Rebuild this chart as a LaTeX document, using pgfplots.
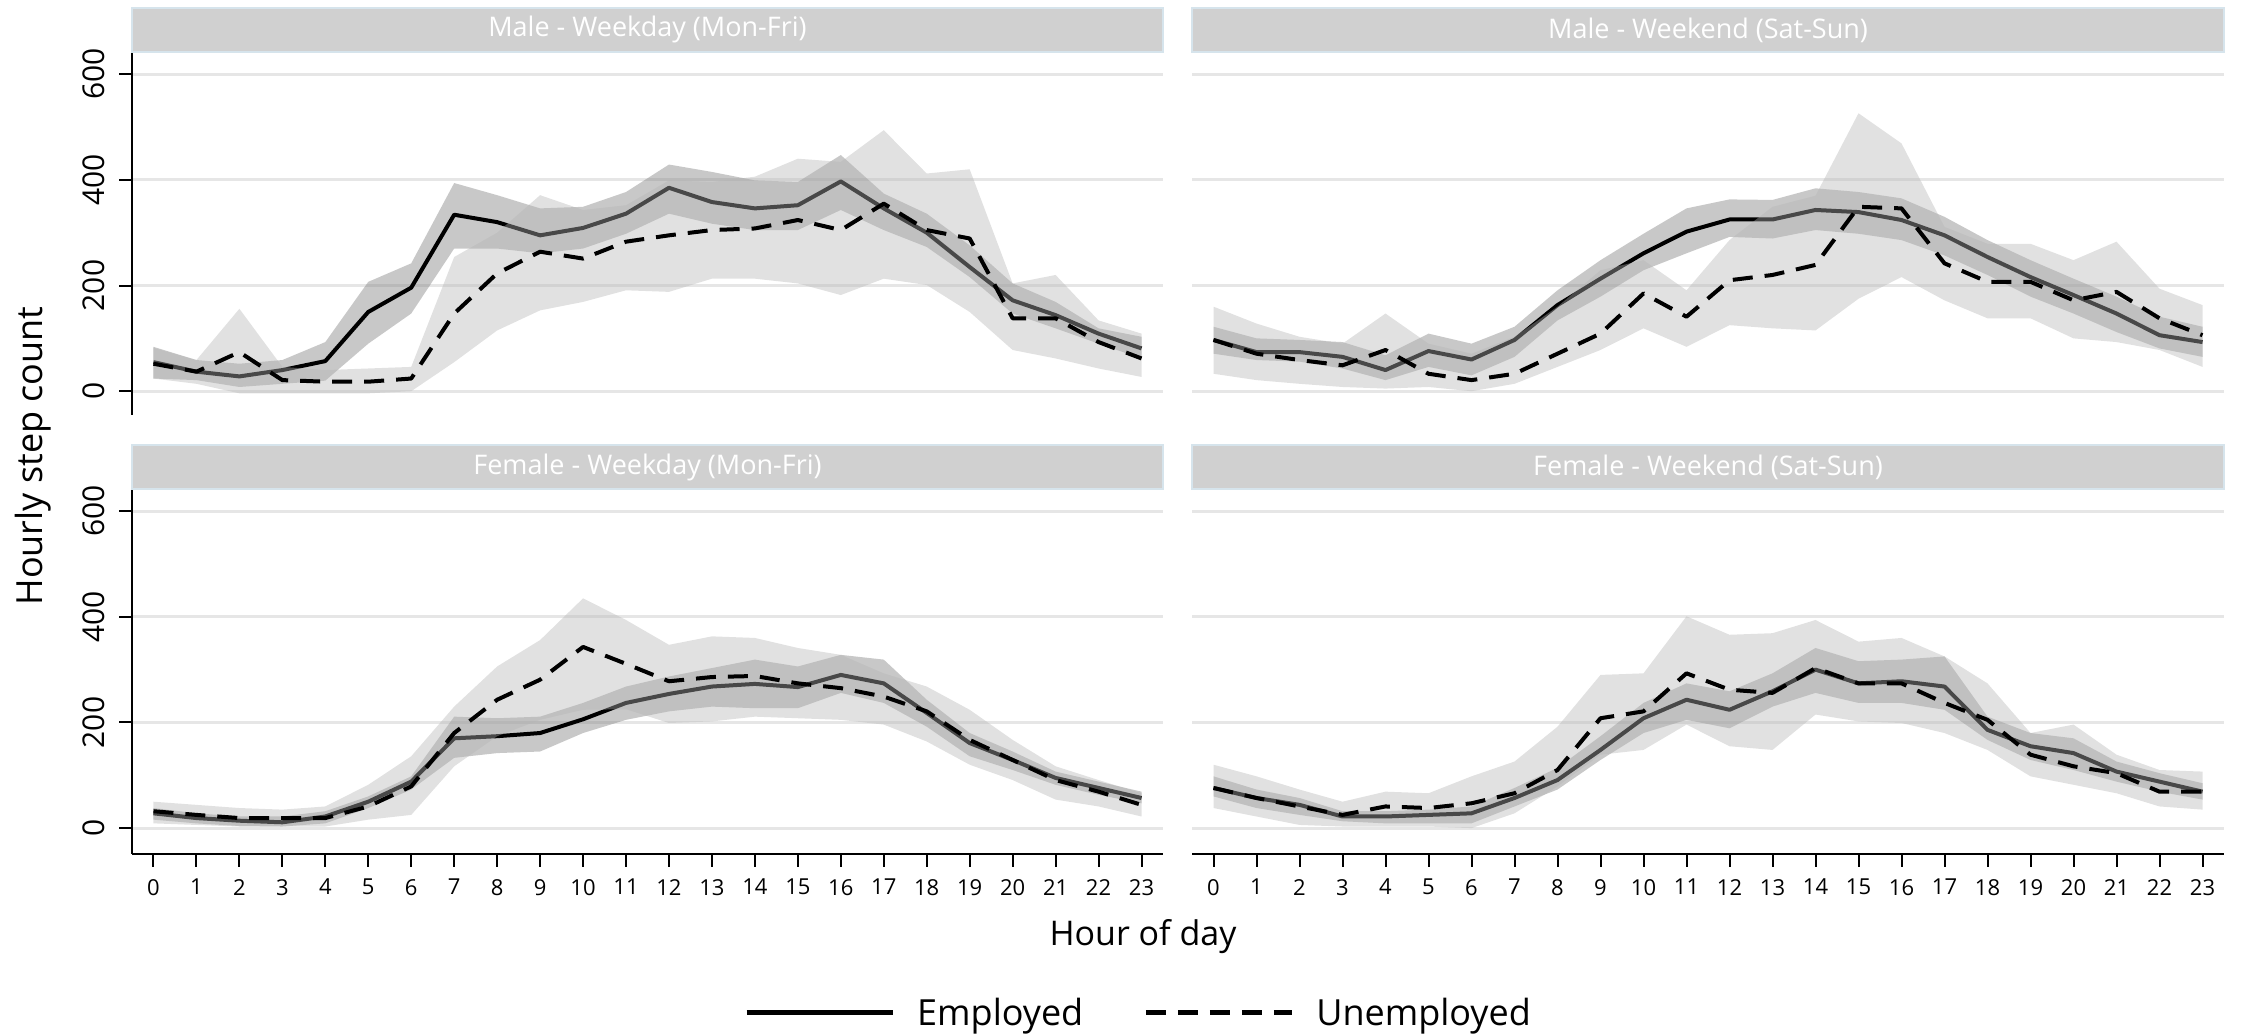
\documentclass[border=0pt]{standalone}
\usepackage{pgfplots}
\pgfplotsset{compat=1.18}
\usepackage{pgfplotstable}
\usepackage{fontspec}
\setmainfont{Open Sans}
\definecolor{gridc}{HTML}{E6E6E6}
\definecolor{stripc}{HTML}{D0D0D0}
\definecolor{stripb}{HTML}{D6E4EC}
\definecolor{bandE}{HTML}{767676}
\definecolor{bandU}{HTML}{B4B4B4}

% mean hourly steps: e = employed, u = unemployed
\pgfplotstableread{
h e u
0 55 52
1 37 37
2 28 74
3 40 21
4 57 18
5 150 18
6 196 24
7 334 147
8 320 223
9 295 264
10 309 251
11 336 283
12 385 295
13 358 305
14 346 308
15 352 324
16 397 305
17 346 355
18 300 305
19 235 289
20 172 138
21 144 138
22 109 93
23 81 62
}\tabMWD

\pgfplotstableread{
h e u
0 97 97
1 74 71
2 74 59
3 65 49
4 40 78
5 76 33
6 60 21
7 97 33
8 163 71
9 213 109
10 261 185
11 302 141
12 325 210
13 325 220
14 343 239
15 339 349
16 324 346
17 295 242
18 254 207
19 216 207
20 182 172
21 147 188
22 106 138
23 93 106
}\tabMWE

\pgfplotstableread{
h e u
0 28 32
1 19 25
2 14 19
3 11 19
4 22 19
5 50 41
6 88 79
7 170 180
8 174 243
9 180 281
10 206 343
11 237 311
12 254 278
13 268 286
14 273 288
15 267 274
16 290 265
17 274 249
18 218 221
19 161 167
20 129 129
21 95 91
22 76 69
23 57 44
}\tabFWD

\pgfplotstableread{
h e u
0 76 76
1 57 57
2 44 41
3 22 25
4 22 41
5 25 38
6 28 47
7 57 66
8 91 110
9 148 208
10 208 221
11 243 293
12 224 262
13 259 256
14 300 303
15 274 274
16 278 274
17 268 237
18 186 205
19 155 139
20 142 117
21 107 104
22 88 69
23 69 69
}\tabFWE

% #1 table, #2 employed CI polygon (upper then lower), #3 unemployed CI polygon
\newcommand{\drawpanel}[3]{%
  \addplot[fill=bandE, fill opacity=0.4, draw=none, forget plot] coordinates {#2};
  \addplot[black, line width=4pt, line join=round, forget plot] table[x=h, y=e] {#1};
  \addplot[fill=bandU, fill opacity=0.4, draw=none, forget plot] coordinates {#3};
  \addplot[black, line width=4pt, line join=round, dash pattern=on 20pt off 12pt, forget plot] table[x=h, y=u] {#1};
}

\pgfplotsset{
  panel/.style={
    scale only axis, width=1031pt,
    xmin=-0.5, xmax=23.5,
    xtick={0,...,23}, ytick={0,200,400,600},
    ymajorgrids, grid style={gridc, line width=3pt},
    axis x line*=bottom, axis y line*=left,
    axis line style={line width=2pt, black},
    major tick length=13pt, tick align=outside,
    tick style={line width=2pt, black},
    /pgf/number format/assume math mode=true,
    xticklabel style={font=\fontsize{22}{24}\selectfont, inner ysep=12pt},
    yticklabel style={font=\fontsize{30}{32}\selectfont, rotate=90, anchor=south, inner xsep=0pt, inner ysep=14pt},
  },
  toppanel/.style={height=363pt, ymin=-45, ymax=642, xtick=\empty, x axis line style={draw=none}},
  botpanel/.style={height=365pt, ymin=-49, ymax=642},
  rightpanel/.style={yticklabels={}, y axis line style={draw=none}, ytick style={draw=none}},
}

\begin{document}
\begin{tikzpicture}[x=1pt, y=1pt]
\path[use as bounding box] (0,0) rectangle (2247,1035);

\begin{axis}[panel, toppanel, at={(132pt,620pt)}, anchor=south west]
\drawpanel{\tabMWD}
{(0,84)(1,59)(2,52)(3,59)(4,93)(5,207)(6,242)(7,394)(8,371)(9,346)(10,349)(11,377)(12,429)(13,415)(14,399)(15,396)(16,447)(17,374)(18,336)(19,276)(20,204)(21,169)(22,119)(23,103)
 (23,62)(22,90)(21,119)(20,147)(19,216)(18,273)(17,305)(16,343)(15,305)(14,305)(13,317)(12,336)(11,298)(10,270)(9,261)(8,270)(7,270)(6,147)(5,90)(4,20)(3,14)(2,8)(1,21)(0,24)}
{(0,82)(1,59)(2,156)(3,46)(4,40)(5,43)(6,46)(7,254)(8,300)(9,371)(10,343)(11,352)(12,399)(13,396)(14,406)(15,440)(16,434)(17,494)(18,412)(19,420)(20,204)(21,220)(22,134)(23,109)
 (23,27)(22,43)(21,62)(20,78)(19,150)(18,201)(17,213)(16,182)(15,204)(14,213)(13,213)(12,188)(11,191)(10,169)(9,153)(8,115)(7,55)(6,0)(5,-4)(4,-4)(3,-4)(2,-4)(1,14)(0,24)}
\end{axis}

\begin{axis}[panel, toppanel, rightpanel, width=1032pt, at={(1192pt,620pt)}, anchor=south west]
\drawpanel{\tabMWE}
{(0,122)(1,100)(2,97)(3,93)(4,68)(5,109)(6,90)(7,122)(8,191)(9,248)(10,298)(11,346)(12,363)(13,362)(14,384)(15,377)(16,365)(17,330)(18,286)(19,248)(20,213)(21,179)(22,141)(23,122)
 (23,65)(22,81)(21,112)(20,147)(19,179)(18,220)(17,257)(16,286)(15,298)(14,305)(13,289)(12,292)(11,261)(10,229)(9,179)(8,134)(7,65)(6,30)(5,46)(4,21)(3,43)(2,56)(1,59)(0,71)}
{(0,160)(1,128)(2,103)(3,90)(4,147)(5,90)(6,71)(7,103)(8,160)(9,229)(10,248)(11,191)(12,286)(13,349)(14,370)(15,526)(16,469)(17,311)(18,279)(19,279)(20,248)(21,283)(22,194)(23,163)
 (23,46)(22,78)(21,93)(20,100)(19,138)(18,138)(17,172)(16,216)(15,175)(14,115)(13,119)(12,125)(11,84)(10,119)(9,78)(8,46)(7,14)(6,0)(5,8)(4,5)(3,8)(2,14)(1,21)(0,33)}
\end{axis}

\begin{axis}[panel, botpanel, at={(132pt,181pt)}, anchor=south west,
  legend columns=2,
  legend style={draw=none, fill=none, inner sep=0pt, at={(0.5936,-0.4356)}, anchor=west,
    font=\fontsize{36}{40}\selectfont,
    /tikz/every even column/.append style={column sep=58pt}},
  legend image code/.code={\draw[#1] (0pt,0pt) -- (146pt,0pt);}]
\drawpanel{\tabFWD}
{(0,38)(1,28)(2,22)(3,22)(4,32)(5,60)(6,98)(7,211)(8,208)(9,211)(10,237)(11,268)(12,287)(13,303)(14,319)(15,306)(16,328)(17,319)(18,243)(19,180)(20,145)(21,107)(22,88)(23,69)
 (23,47)(22,63)(21,82)(20,110)(19,136)(18,192)(17,237)(16,256)(15,227)(14,227)(13,230)(12,221)(11,205)(10,180)(9,145)(8,142)(7,133)(6,73)(5,38)(4,9)(3,3)(2,4)(1,9)(0,16)}
{(0,50)(1,44)(2,38)(3,35)(4,41)(5,82)(6,136)(7,230)(8,306)(9,356)(10,435)(11,394)(12,347)(13,363)(14,360)(15,341)(16,328)(17,293)(18,268)(19,224)(20,167)(21,117)(22,91)(23,66)
 (23,22)(22,41)(21,54)(20,91)(19,120)(18,164)(17,196)(16,205)(15,208)(14,211)(13,202)(12,199)(11,225)(10,224)(9,205)(8,174)(7,117)(6,25)(5,16)(4,3)(3,3)(2,3)(1,6)(0,9)}
\addlegendimage{black, line width=5pt}
\addlegendentry{\hspace{20pt}Employed}
\addlegendimage{black, line width=5pt, dash pattern=on 20pt off 12pt}
\addlegendentry{\hspace{20pt}Unemployed}
\end{axis}

\begin{axis}[panel, botpanel, rightpanel, width=1032pt, at={(1192pt,181pt)}, anchor=south west]
\drawpanel{\tabFWE}
{(0,98)(1,73)(2,57)(3,32)(4,32)(5,35)(6,41)(7,76)(8,114)(9,174)(10,237)(11,274)(12,259)(13,293)(14,341)(15,316)(16,319)(17,325)(18,211)(19,180)(20,170)(21,126)(22,104)(23,85)
 (23,54)(22,69)(21,88)(20,110)(19,129)(18,167)(17,224)(16,237)(15,237)(14,256)(13,230)(12,189)(11,205)(10,180)(9,129)(8,73)(7,41)(6,9)(5,9)(4,9)(3,13)(2,25)(1,38)(0,60)}
{(0,120)(1,98)(2,73)(3,50)(4,69)(5,66)(6,98)(7,126)(8,192)(9,290)(10,293)(11,401)(12,366)(13,369)(14,394)(15,353)(16,360)(17,325)(18,274)(19,180)(20,196)(21,139)(22,110)(23,107)
 (23,35)(22,41)(21,66)(20,82)(19,98)(18,148)(17,180)(16,199)(15,202)(14,215)(13,148)(12,155)(11,196)(10,148)(9,139)(8,79)(7,28)(6,0)(5,3)(4,3)(3,3)(2,6)(1,22)(0,38)}
\end{axis}

% facet strips
\filldraw[fill=stripc, draw=stripb, line width=2pt] (132,983) rectangle (1163,1027);
\filldraw[fill=stripc, draw=stripb, line width=2pt] (1192,983) rectangle (2224,1027);
\filldraw[fill=stripc, draw=stripb, line width=2pt] (132,546) rectangle (1163,590);
\filldraw[fill=stripc, draw=stripb, line width=2pt] (1192,546) rectangle (2224,590);
\node[white, font=\fontsize{27}{30}\selectfont] at (647.5,1005) {Male - Weekday (Mon-Fri)};
\node[white, font=\fontsize{27}{30}\selectfont] at (1708,1005) {Male - Weekend (Sat-Sun)};
\node[white, font=\fontsize{27}{30}\selectfont] at (647.5,568) {Female - Weekday (Mon-Fri)};
\node[white, font=\fontsize{27}{30}\selectfont] at (1708,568) {Female - Weekend (Sat-Sun)};

% axis titles
\node[rotate=90, font=\fontsize{36}{40}\selectfont] at (33,579) {Hourly step count};
\node[font=\fontsize{34}{38}\selectfont] at (1143,98) {Hour of day};
\end{tikzpicture}
\end{document}
